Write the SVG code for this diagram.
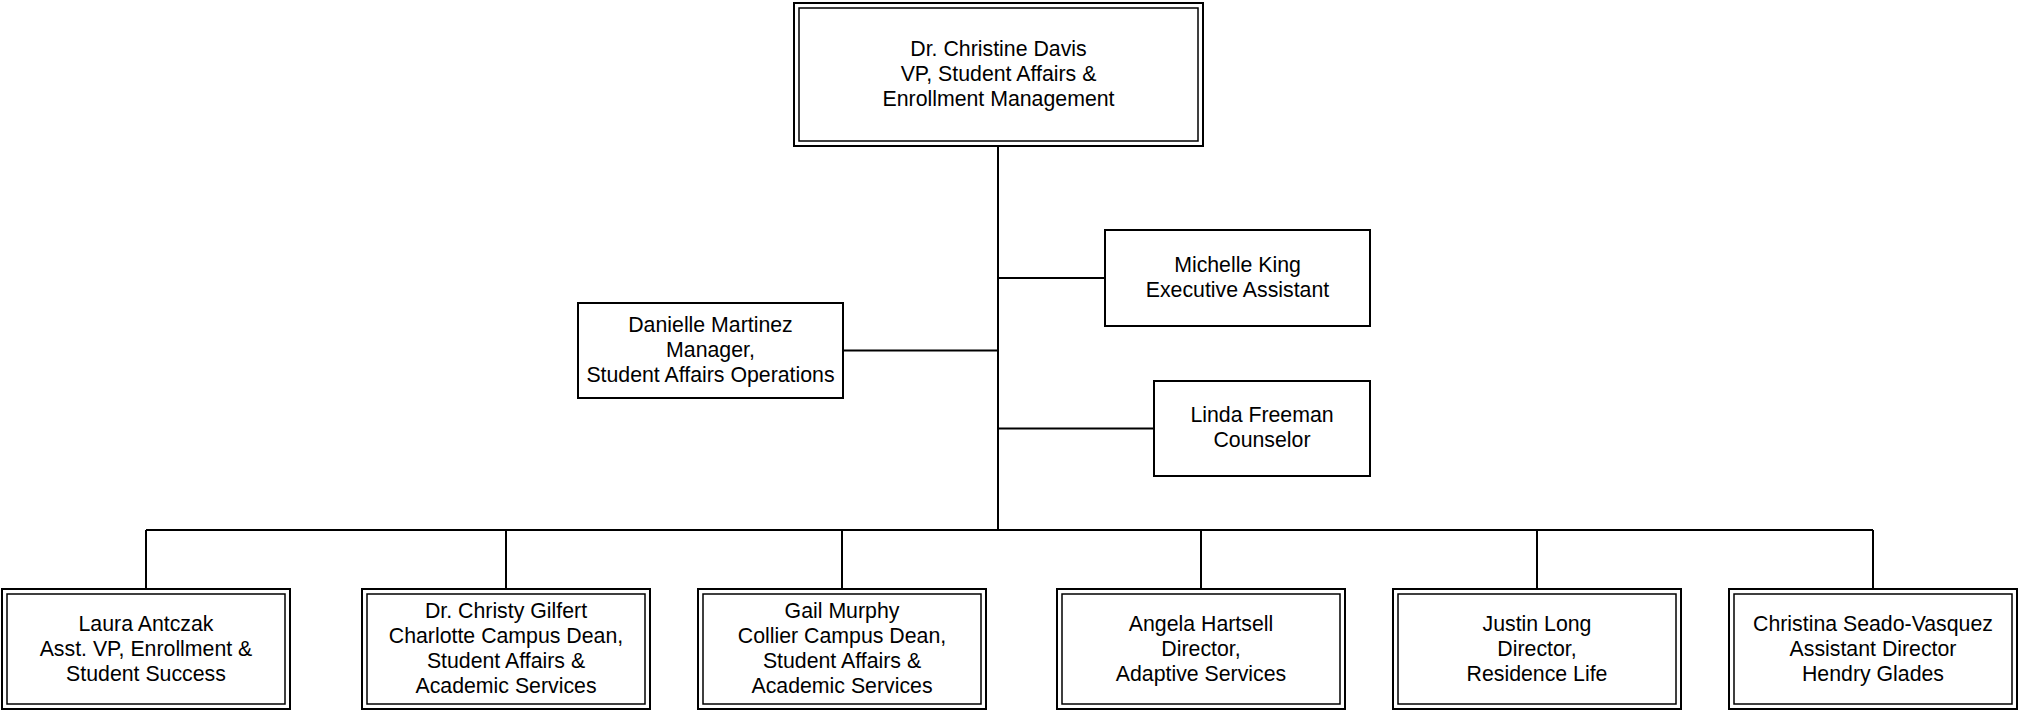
<svg xmlns="http://www.w3.org/2000/svg" width="2019" height="710" viewBox="0 0 2019 710">
<style>
  .bg{fill:#fff}
  .box{fill:#fff;stroke:#000;stroke-width:2}
  .outer{fill:#fff;stroke:#000;stroke-width:2}
  .inner{fill:none;stroke:#000;stroke-width:1.5}
  .line{fill:none;stroke:#000;stroke-width:2}
  text{font-family:"Liberation Sans",Arial,sans-serif;font-size:21.3px;fill:#000;text-anchor:middle}
</style>
<rect class="bg" x="0" y="0" width="2019" height="710"/>
<g id="connectors">
  <path class="line" d="M998 146 V530"/>
  <path class="line" d="M998 278 H1105"/>
  <path class="line" d="M998 350.5 H843"/>
  <path class="line" d="M998 428.5 H1154"/>
  <path class="line" d="M146 530 H1873"/>
  <path class="line" d="M146 530 V589"/>
  <path class="line" d="M506 530 V589"/>
  <path class="line" d="M842 530 V589"/>
  <path class="line" d="M1201 530 V589"/>
  <path class="line" d="M1537 530 V589"/>
  <path class="line" d="M1873 530 V589"/>
</g>
<g id="vp">
  <rect class="outer" x="794" y="3" width="409" height="143"/>
  <rect class="inner" x="799" y="8" width="399" height="133"/>
  <text x="998.5" y="56">Dr. Christine Davis</text>
  <text x="998.5" y="81">VP, Student Affairs &amp;</text>
  <text x="998.5" y="106">Enrollment Management</text>
</g>
<g id="michelle">
  <rect class="box" x="1105" y="230" width="265" height="96"/>
  <text x="1237.5" y="272">Michelle King</text>
  <text x="1237.5" y="297">Executive Assistant</text>
</g>
<g id="danielle">
  <rect class="box" x="578" y="303" width="265" height="95"/>
  <text x="710.5" y="332">Danielle Martinez</text>
  <text x="710.5" y="357">Manager,</text>
  <text x="710.5" y="382">Student Affairs Operations</text>
</g>
<g id="linda">
  <rect class="box" x="1154" y="381" width="216" height="95"/>
  <text x="1262" y="422">Linda Freeman</text>
  <text x="1262" y="447">Counselor</text>
</g>
<g id="laura">
  <rect class="outer" x="2" y="589" width="288" height="120"/>
  <rect class="inner" x="7" y="594" width="278" height="110"/>
  <text x="146" y="631">Laura Antczak</text>
  <text x="146" y="656">Asst. VP, Enrollment &amp;</text>
  <text x="146" y="681">Student Success</text>
</g>
<g id="christy">
  <rect class="outer" x="362" y="589" width="288" height="120"/>
  <rect class="inner" x="367" y="594" width="278" height="110"/>
  <text x="506" y="618">Dr. Christy Gilfert</text>
  <text x="506" y="643">Charlotte Campus Dean,</text>
  <text x="506" y="668">Student Affairs &amp;</text>
  <text x="506" y="693">Academic Services</text>
</g>
<g id="gail">
  <rect class="outer" x="698" y="589" width="288" height="120"/>
  <rect class="inner" x="703" y="594" width="278" height="110"/>
  <text x="842" y="618">Gail Murphy</text>
  <text x="842" y="643">Collier Campus Dean,</text>
  <text x="842" y="668">Student Affairs &amp;</text>
  <text x="842" y="693">Academic Services</text>
</g>
<g id="angela">
  <rect class="outer" x="1057" y="589" width="288" height="120"/>
  <rect class="inner" x="1062" y="594" width="278" height="110"/>
  <text x="1201" y="631">Angela Hartsell</text>
  <text x="1201" y="656">Director,</text>
  <text x="1201" y="681">Adaptive Services</text>
</g>
<g id="justin">
  <rect class="outer" x="1393" y="589" width="288" height="120"/>
  <rect class="inner" x="1398" y="594" width="278" height="110"/>
  <text x="1537" y="631">Justin Long</text>
  <text x="1537" y="656">Director,</text>
  <text x="1537" y="681">Residence Life</text>
</g>
<g id="christina">
  <rect class="outer" x="1729" y="589" width="288" height="120"/>
  <rect class="inner" x="1734" y="594" width="278" height="110"/>
  <text x="1873" y="631">Christina Seado-Vasquez</text>
  <text x="1873" y="656">Assistant Director</text>
  <text x="1873" y="681">Hendry Glades</text>
</g>
</svg>
